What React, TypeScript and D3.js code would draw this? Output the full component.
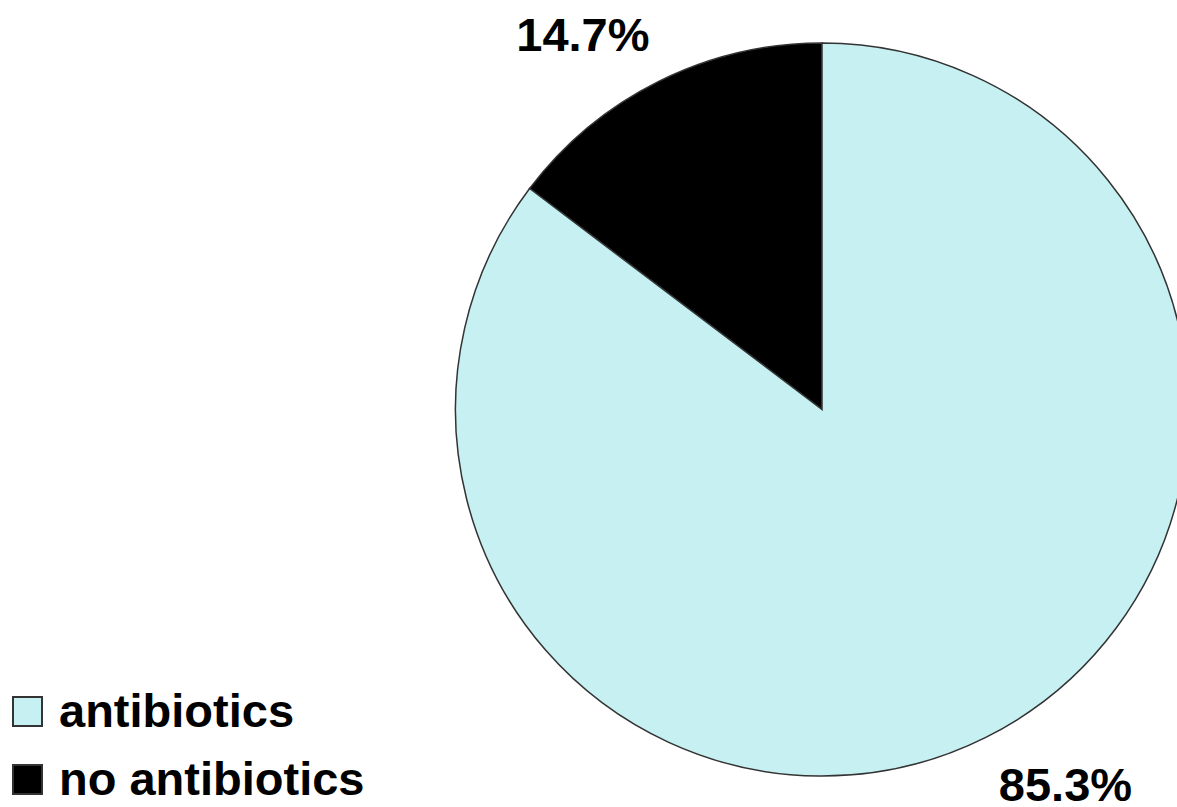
import React from "react";
import * as d3 from "d3";

const categories = ["no antibiotics", "antibiotics"];
const values = [14.7, 85.3];
const labels = ["14.7%", "85.3%"];
const colors = ["#000000", "#C6F0F2"];
const legendOrder = ["antibiotics", "no antibiotics"];

const W = 1177;
const H = 807;
const cx = 822;
const cy = 409.5;
const R = 366.5;
const FONT = "'Liberation Sans', Arial, sans-serif";

export default function App() {
  const total = d3.sum(values);
  const start = -(values[0] / total) * 2 * Math.PI;
  const pie = d3
    .pie<number>()
    .sort(null)
    .value((d) => d)
    .startAngle(start)
    .endAngle(start + 2 * Math.PI);
  const arcs = pie(values);
  const arc = d3.arc<d3.PieArcDatum<number>>().innerRadius(0).outerRadius(R);

  // label placement: angle (from 12 o'clock, clockwise) and radius
  const labelPos = [
    { ang: (-32.5 * Math.PI) / 180, r: 445 },
    { ang: (147 * Math.PI) / 180, r: 447 },
  ];

  return (
    <svg
      width={W}
      height={H}
      style={{ position: "absolute", left: 0, top: 0, background: "#fff" }}
    >
      <g transform={`translate(${cx},${cy})`}>
        {arcs.map((a, i) => (
          <path
            key={categories[i]}
            d={arc(a) || ""}
            fill={colors[i]}
            stroke="#333"
            strokeWidth={1.5}
          />
        ))}
      </g>
      {labels.map((t, i) => {
        const p = labelPos[i];
        const x = cx + Math.sin(p.ang) * p.r;
        const y = cy - Math.cos(p.ang) * p.r;
        return (
          <text
            key={t}
            x={x}
            y={y + 17}
            textAnchor="middle"
            fontFamily={FONT}
            fontWeight="bold"
            fontSize={47}
            fill="#000"
          >
            {t}
          </text>
        );
      })}
      {legendOrder.map((name, i) => {
        const idx = categories.indexOf(name);
        const y0 = 697 + i * 68;
        return (
          <g key={name}>
            <rect
              x={13}
              y={y0}
              width={29}
              height={29}
              fill={colors[idx]}
              stroke="#333"
              strokeWidth={2}
            />
            <text
              x={59}
              y={y0 + 30}
              fontFamily={FONT}
              fontWeight="bold"
              fontSize={47}
              fill="#000"
            >
              {name}
            </text>
          </g>
        );
      })}
    </svg>
  );
}
